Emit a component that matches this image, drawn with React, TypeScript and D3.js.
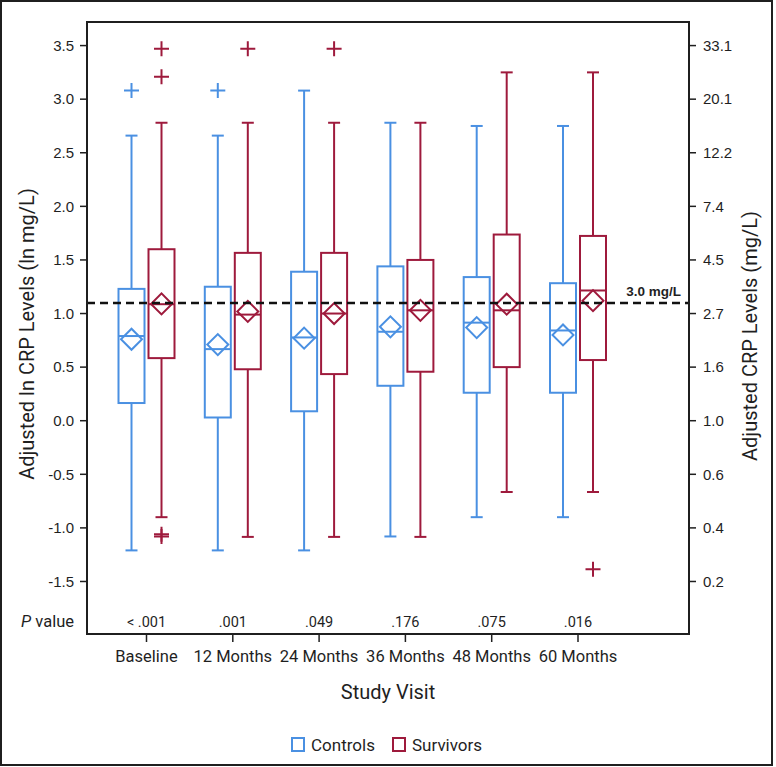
import * as d3 from "d3";

const CATEGORIES = ["Baseline", "12 Months", "24 Months", "36 Months", "48 Months", "60 Months"];
const P_VALUES = ["< .001", ".001", ".049", ".176", ".075", ".016"];
const GROUPS = ["Controls", "Survivors"];

// adjusted ln CRP
const CONTROL_MIN = [-1.21, -1.21, -1.21, -1.08, -0.9, -0.9];
const CONTROL_Q1 = [0.165, 0.03, 0.088, 0.326, 0.261, 0.261];
const CONTROL_MEDIAN = [0.79, 0.668, 0.777, 0.83, 0.915, 0.842];
const CONTROL_Q3 = [1.23, 1.25, 1.39, 1.44, 1.34, 1.283];
const CONTROL_MAX = [2.66, 2.66, 3.08, 2.78, 2.75, 2.75];
const CONTROL_MEAN = [0.76, 0.71, 0.77, 0.876, 0.869, 0.8];
const CONTROL_OUTLIERS = [[3.08], [3.08], [], [], [], []];

const SURVIVOR_MIN = [-0.9, -1.084, -1.084, -1.084, -0.665, -0.665];
const SURVIVOR_Q1 = [0.584, 0.48, 0.435, 0.457, 0.5, 0.566];
const SURVIVOR_MEDIAN = [1.087, 0.99, 1.0, 1.03, 1.03, 1.215];
const SURVIVOR_Q3 = [1.6, 1.566, 1.566, 1.5, 1.737, 1.724];
const SURVIVOR_MAX = [2.78, 2.78, 2.78, 2.78, 3.25, 3.25];
const SURVIVOR_MEAN = [1.09, 1.02, 1.0, 1.03, 1.087, 1.12];
const SURVIVOR_OUTLIERS = [[3.47, 3.21, -1.06, -1.08], [3.47], [3.47], [], [], [-1.385]];

const LEFT_TICKS = [-1.5, -1.0, -0.5, 0.0, 0.5, 1.0, 1.5, 2.0, 2.5, 3.0, 3.5];
const REFERENCE_LN = Math.log(3);

const BLUE = "#4a90e2";
const RED = "#9e1a3c";
const INK = "#1f1f1f";
const COND = "Roboto, 'Liberation Sans', sans-serif";
const SANS = "'Liberation Sans', Arial, sans-serif";

const W = 776;
const H = 767;
const M = { left: 87, right: 87, top: 22, bottom: 133 };

export default function App() {
  const x0 = M.left;
  const x1 = W - M.right;
  const y0 = M.top;
  const y1 = H - M.bottom;

  const x = d3.scalePoint<string>().domain(CATEGORIES).range([x0 + 59.5, x1 - 111]);
  const y = d3.scaleLinear().domain([-1.99, 3.72]).range([y1, y0]);
  const yRight = d3.scaleLog().domain([Math.exp(-1.99), Math.exp(3.72)]).range([y1, y0]);
  const offset = d3.scalePoint<string>().domain(GROUPS).range([-15, 15]);

  const boxW = 26;
  const capW = 12;
  const plusR = 7.5;
  const diamond = d3.symbol().type(d3.symbolSquare).size(220)();

  const series = [
    { name: "Controls", color: BLUE, min: CONTROL_MIN, q1: CONTROL_Q1, med: CONTROL_MEDIAN, q3: CONTROL_Q3, max: CONTROL_MAX, mean: CONTROL_MEAN, out: CONTROL_OUTLIERS },
    { name: "Survivors", color: RED, min: SURVIVOR_MIN, q1: SURVIVOR_Q1, med: SURVIVOR_MEDIAN, q3: SURVIVOR_Q3, max: SURVIVOR_MAX, mean: SURVIVOR_MEAN, out: SURVIVOR_OUTLIERS },
  ];

  const pRowY = 621;

  return (
    <svg width={W} height={H} style={{ position: "absolute", left: 0, top: 0, background: "#fff" }}>
      <rect x={1} y={1} width={771} height={764} fill="none" stroke={INK} strokeWidth={2} />

      {/* boxes */}
      {series.map((s) =>
        CATEGORIES.map((c, i) => {
          const cx = (x(c) as number) + (offset(s.name) as number);
          const yMax = y(s.max[i]);
          const yMin = y(s.min[i]);
          const yQ1 = y(s.q1[i]);
          const yQ3 = y(s.q3[i]);
          return (
            <g key={s.name + c} stroke={s.color} strokeWidth={2} fill="none">
              <line x1={cx} x2={cx} y1={yQ3} y2={yMax} />
              <line x1={cx} x2={cx} y1={yQ1} y2={yMin} />
              <line x1={cx - capW / 2} x2={cx + capW / 2} y1={yMax} y2={yMax} />
              <line x1={cx - capW / 2} x2={cx + capW / 2} y1={yMin} y2={yMin} />
              <rect x={cx - boxW / 2} y={yQ3} width={boxW} height={yQ1 - yQ3} />
              <line x1={cx - boxW / 2} x2={cx + boxW / 2} y1={y(s.med[i])} y2={y(s.med[i])} />
              <path d={diamond as string} transform={`translate(${cx},${y(s.mean[i])}) rotate(45)`} />
              {s.out[i].map((v, k) => (
                <path key={k} d={`M${cx - plusR},${y(v)}H${cx + plusR}M${cx},${y(v) - plusR}V${y(v) + plusR}`} />
              ))}
            </g>
          );
        })
      )}

      {/* 3.0 mg/L reference */}
      <line x1={x0} x2={x1} y1={y(REFERENCE_LN)} y2={y(REFERENCE_LN)} stroke="#111" strokeWidth={2.5} strokeDasharray="8,5" />
      <text x={x1 - 8} y={y(REFERENCE_LN) - 7} textAnchor="end" fontFamily={SANS} fontWeight="bold" fontSize={13.5} fill={INK}>3.0 mg/L</text>

      {/* frame */}
      <rect x={x0} y={y0} width={x1 - x0} height={y1 - y0} fill="none" stroke={INK} strokeWidth={2} />

      {/* left axis */}
      {LEFT_TICKS.map((t) => (
        <g key={"l" + t}>
          <line x1={x0 - 7} x2={x0} y1={y(t)} y2={y(t)} stroke={INK} strokeWidth={1.5} />
          <text x={x0 - 13} y={y(t)} dy="0.35em" textAnchor="end" fontFamily={SANS} fontSize={15} fill={INK}>{t.toFixed(1)}</text>
        </g>
      ))}

      {/* right axis */}
      {LEFT_TICKS.map((t) => {
        const v = Math.exp(t);
        return (
          <g key={"r" + t}>
            <line x1={x1} x2={x1 + 7} y1={yRight(v)} y2={yRight(v)} stroke={INK} strokeWidth={1.5} />
            <text x={x1 + 14} y={yRight(v)} dy="0.35em" fontFamily={SANS} fontSize={15} fill={INK}>{v.toFixed(1)}</text>
          </g>
        );
      })}

      {/* x axis */}
      {CATEGORIES.map((c) => (
        <g key={"x" + c}>
          <line x1={x(c)} x2={x(c)} y1={y1} y2={y1 + 8} stroke={INK} strokeWidth={1.5} />
          <text x={x(c)} y={y1 + 28} textAnchor="middle" fontFamily={COND} fontSize={16.5} fill={INK}>{c}</text>
        </g>
      ))}

      {/* P values */}
      <text x={74} y={pRowY} dy="0.35em" textAnchor="end" fontFamily={COND} fontSize={16.5} fill={INK}>
        <tspan fontStyle="italic">P</tspan> value
      </text>
      {CATEGORIES.map((c, i) => (
        <text key={"p" + c} x={x(c)} y={pRowY + 1} dy="0.35em" textAnchor="middle" fontFamily={COND} fontSize={14.5} fill={INK}>{P_VALUES[i]}</text>
      ))}

      {/* titles */}
      <text x={(x0 + x1) / 2} y={699} textAnchor="middle" fontFamily={COND} fontSize={20} fill={INK}>Study Visit</text>
      <text transform={`translate(27,${(y0 + y1) / 2 + 6}) rotate(-90)`} dy="0.35em" textAnchor="middle" fontFamily={COND} fontSize={20} fill={INK}>Adjusted ln CRP Levels (ln mg/L)</text>
      <text transform={`translate(750,${(y0 + y1) / 2 + 8}) rotate(-90)`} dy="0.35em" textAnchor="middle" fontFamily={COND} fontSize={20} fill={INK}>Adjusted CRP Levels (mg/L)</text>

      {/* legend */}
      {GROUPS.map((g, i) => {
        const lx = i === 0 ? 292 : 393;
        return (
          <g key={g}>
            <rect x={lx} y={738} width={12} height={13} fill="none" stroke={i === 0 ? BLUE : RED} strokeWidth={2} />
            <text x={lx + 19} y={745} dy="0.35em" fontFamily={COND} fontSize={17} fill={INK}>{g}</text>
          </g>
        );
      })}
    </svg>
  );
}
